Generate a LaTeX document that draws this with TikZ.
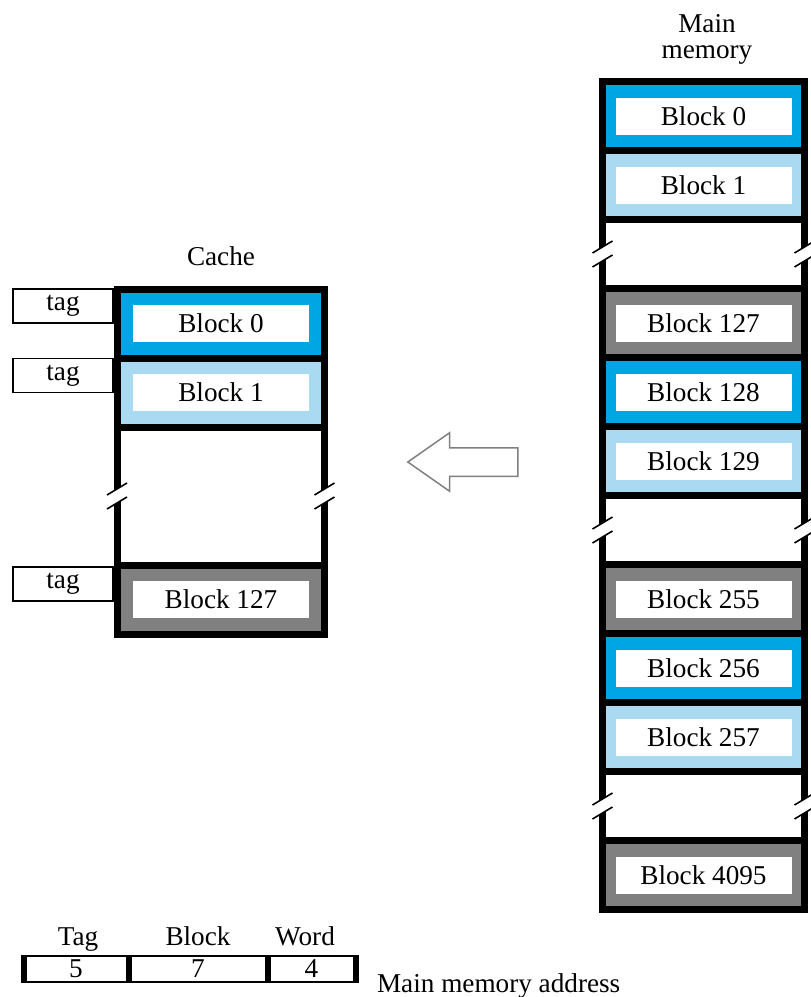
\documentclass[tikz,border=0pt]{standalone}
\usepackage{fontspec}
\setmainfont{Liberation Serif}
\usepackage{tikz}
\usetikzlibrary{shapes.arrows}

\definecolor{blockblue}{RGB}{0,166,228}
\definecolor{blocklight}{RGB}{170,218,242}
\definecolor{blockgray}{RGB}{128,128,128}

\begin{document}
\begin{tikzpicture}[
        x=0.5pt, y=-0.5pt,
        font=\fontsize{13.6}{13}\selectfont,
        cell/.style={rectangle, draw=black, line width=3.5pt, minimum height=34.5pt, inner sep=0pt},
        cachecell/.style={cell, minimum width=103.5pt},
        memcell/.style={cell, minimum width=101pt},
        blocklabel/.style={rectangle, fill=white, minimum width=88pt, minimum height=18.5pt, inner sep=0pt},
        tagbox/.style={rectangle, draw=black, line width=0.75pt, fill=white, minimum width=50pt, minimum height=17pt, inner sep=0pt},
        field/.style={rectangle, draw=black, line width=1pt, minimum height=13pt, inner sep=0pt, outer sep=0pt},
        divider/.style={draw, line width=3pt},
        breakline/.style={draw, line width=0.8pt}
    ]

    \useasboundingbox (0,0) rectangle (810,997);

    % --- 1. CACHE ---
    \node[anchor=base] (cachetitle) at (221,265) {Cache};

    \node[tagbox] (tag0) at (63,306) {tag};
    \node[tagbox] (tag1) at (63,375.5) {tag};
    \node[tagbox] (tag127) at (63,584) {tag};

    \node[cachecell, fill=blockblue] (c0) at (221,323.5) {};
    \node[cachecell, fill=blocklight] (c1) at (221,392.5) {};
    \node[cachecell, fill=white, minimum height=69pt] (cgap) at (221,496) {};
    \node[cachecell, fill=blockgray] (c127) at (221,599.5) {};

    \node[blocklabel] (c0text) at (c0) {Block 0};
    \node[blocklabel] (c1text) at (c1) {Block 1};
    \node[blocklabel] (c127text) at (c127) {Block 127};

    % --- 2. MAIN MEMORY ---
    \node[align=center, anchor=south, inner sep=0pt] (memtitle) at (707,65) {Main\\memory};

    \node[memcell, fill=blockblue] (m0) at (703.5,116) {};
    \node[memcell, fill=blocklight] (m1) at (703.5,185) {};
    \node[memcell, fill=white] (mgap1) at (703.5,254) {};
    \node[memcell, fill=blockgray] (m127) at (703.5,323) {};
    \node[memcell, fill=blockblue] (m128) at (703.5,392) {};
    \node[memcell, fill=blocklight] (m129) at (703.5,461) {};
    \node[memcell, fill=white] (mgap2) at (703.5,530) {};
    \node[memcell, fill=blockgray] (m255) at (703.5,599) {};
    \node[memcell, fill=blockblue] (m256) at (703.5,668) {};
    \node[memcell, fill=blocklight] (m257) at (703.5,737) {};
    \node[memcell, fill=white] (mgap3) at (703.5,806) {};
    \node[memcell, fill=blockgray] (m4095) at (703.5,875) {};

    \node[blocklabel] (m0text) at (m0) {Block 0};
    \node[blocklabel] (m1text) at (m1) {Block 1};
    \node[blocklabel] (m127text) at (m127) {Block 127};
    \node[blocklabel] (m128text) at (m128) {Block 128};
    \node[blocklabel] (m129text) at (m129) {Block 129};
    \node[blocklabel] (m255text) at (m255) {Block 255};
    \node[blocklabel] (m256text) at (m256) {Block 256};
    \node[blocklabel] (m257text) at (m257) {Block 257};
    \node[blocklabel] (m4095text) at (m4095) {Block 4095};

    % --- 3. BREAK MARKS ---
    \foreach \x/\y in {117/496, 324.5/496, 602.5/254, 804.5/254, 602.5/530, 804.5/530, 602.5/806, 804.5/806} {
        \fill[white] (\x-10,\y-1) -- (\x+10,\y-13) -- (\x+10,\y+1) -- (\x-10,\y+13) -- cycle;
        \draw[breakline] (\x-10,\y-1) -- (\x+10,\y-13) (\x-10,\y+13) -- (\x+10,\y+1);
    }

    % --- 4. TRANSFER ARROW ---
    \node[draw=gray, line width=0.75pt, fill=white, single arrow, shape border rotate=180,
          minimum height=55pt, inner xsep=0pt, inner ysep=6.75pt,
          single arrow head extend=7.5pt, single arrow tip angle=70] (transfer) at (473,462) {};

    % --- 5. ADDRESS FORMAT ---
    \node[anchor=base] (tagname) at (78,945) {Tag};
    \node[anchor=base] (blockname) at (198,945) {Block};
    \node[anchor=base] (wordname) at (305,945) {Word};

    \node[field, minimum width=52.5pt] (ftag) at (76,969) {5};
    \node[field, minimum width=69.5pt] (fblock) at (198,969) {7};
    \node[field, minimum width=44pt] (fword) at (311.5,969) {4};

    \draw[divider] ([yshift=0.5pt]ftag.north west) -- ([yshift=-0.5pt]ftag.south west);
    \draw[divider] ([yshift=0.5pt]fblock.north west) -- ([yshift=-0.5pt]fblock.south west);
    \draw[divider] ([yshift=0.5pt]fword.north west) -- ([yshift=-0.5pt]fword.south west);
    \draw[divider] ([yshift=0.5pt]fword.north east) -- ([yshift=-0.5pt]fword.south east);

    \node[anchor=base west] (addrname) at (370,992) {Main memory address};

\end{tikzpicture}
\end{document}
